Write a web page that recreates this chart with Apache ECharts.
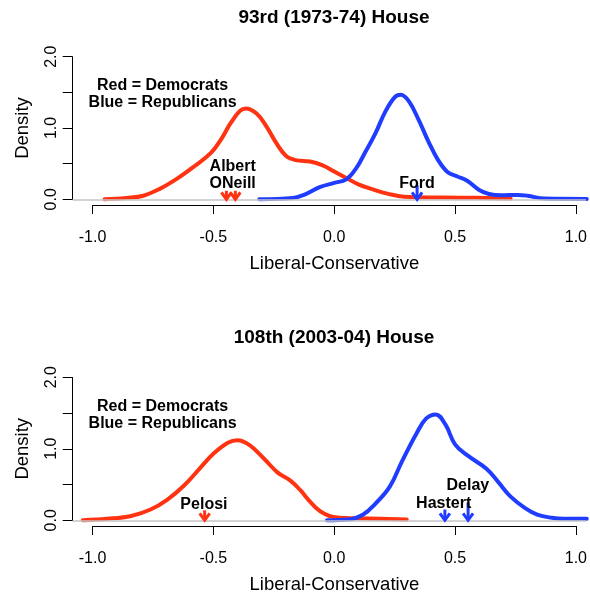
<!DOCTYPE html>
<html>
<head>
<meta charset="utf-8">
<script src="https://cdn.jsdelivr.net/npm/echarts@6/dist/echarts.min.js"></script>
<style>html,body{margin:0;padding:0;background:#fff}#c{width:590px;height:596px}</style>
</head>
<body>
<div id="c"></div>
<script>
// ---- data ----
const xTicks = [-1, -0.5, 0, 0.5, 1];
const yTicks = [0, 0.5, 1, 1.5, 2];
const yLabelValues = [0, 1, 2];
const titles = ['93rd (1973-74) House', '108th (2003-04) House'];
const xName = 'Liberal-Conservative';
const yName = 'Density';

const dem93 = [[-0.95,0.0],[-0.86,0.02],[-0.79,0.05],[-0.72,0.15],[-0.65,0.29],[-0.58,0.46],[-0.51,0.65],[-0.47,0.83],[-0.43,1.06],[-0.39,1.24],[-0.365,1.275],[-0.32,1.2],[-0.28,1.02],[-0.24,0.79],[-0.2,0.61],[-0.16,0.55],[-0.1,0.53],[-0.05,0.48],[0.0,0.39],[0.05,0.3],[0.1,0.21],[0.16,0.14],[0.22,0.08],[0.29,0.036],[0.45,0.025],[0.58,0.02],[0.73,0.01]];
const rep93 = [[-0.31,0.0],[-0.17,0.02],[-0.12,0.07],[-0.06,0.17],[0.0,0.23],[0.05,0.28],[0.09,0.43],[0.13,0.67],[0.17,0.92],[0.21,1.22],[0.25,1.43],[0.275,1.465],[0.31,1.37],[0.35,1.11],[0.39,0.81],[0.43,0.55],[0.47,0.38],[0.51,0.32],[0.55,0.26],[0.6,0.13],[0.64,0.075],[0.69,0.056],[0.76,0.062],[0.8,0.05],[0.87,0.01],[1.045,0.005]];
const dem108 = [[-1.04,0.0],[-0.94,0.02],[-0.84,0.06],[-0.76,0.15],[-0.69,0.29],[-0.62,0.49],[-0.555,0.73],[-0.5,0.93],[-0.44,1.085],[-0.4,1.12],[-0.35,1.05],[-0.29,0.86],[-0.235,0.67],[-0.18,0.55],[-0.14,0.42],[-0.1,0.26],[-0.06,0.13],[-0.02,0.06],[0.02,0.037],[0.09,0.028],[0.19,0.02],[0.3,0.01]];
const rep108 = [[-0.03,0.0],[0.06,0.01],[0.12,0.08],[0.17,0.23],[0.23,0.47],[0.28,0.82],[0.34,1.21],[0.38,1.42],[0.42,1.48],[0.46,1.34],[0.5,1.06],[0.55,0.91],[0.63,0.72],[0.68,0.53],[0.73,0.33],[0.79,0.17],[0.84,0.08],[0.9,0.035],[0.95,0.02],[1.045,0.02]];

// arrows: [x, y of arrow tail]
const demArrows93 = [[-0.446,0.12],[-0.409,0.12]];
const repArrows93 = [[0.343,0.2]];
const demArrows108 = [[-0.536,0.14]];
const repArrows108 = [[0.458,0.15],[0.554,0.25]];

// text annotations: [x, y, text]
const notes93 = [[-0.71,1.6,'Red = Democrats'],[-0.71,1.35,'Blue = Republicans'],[-0.42,0.46,'Albert'],[-0.42,0.225,'ONeill'],[0.343,0.225,'Ford']];
const notes108 = [[-0.71,1.59,'Red = Democrats'],[-0.71,1.35,'Blue = Republicans'],[-0.539,0.22,'Pelosi'],[0.453,0.23,'Hastert'],[0.553,0.49,'Delay']];

// ---- styling ----
const FONT = '"Liberation Sans", Arial, Helvetica, sans-serif';
const RED = '#ff3311';
const BLUE = '#1f3cff';
const X_MIN = -1.082, X_MAX = 1.042, Y_MIN = -0.08, Y_MAX = 2.08;

const panels = [
  {dem: dem93, rep: rep93, demA: demArrows93, repA: repArrows93, notes: notes93},
  {dem: dem108, rep: rep108, demA: demArrows108, repA: repArrows108, notes: notes108}
];

function arrowSeries(i, data, color) {
  return {
    type: 'custom', xAxisIndex: i, yAxisIndex: i, z: 5, clip: false, silent: true,
    encode: {x: 0, y: 1},
    data: data,
    renderItem: function (params, api) {
      const x = api.value(0), yt = api.value(1);
      const top = api.coord([x, yt]);
      const tip = api.coord([x, 0]);
      return {type: 'group', children: [
        {type: 'line', shape: {x1: tip[0], y1: top[1], x2: tip[0], y2: tip[1]}, style: {stroke: color, lineWidth: 3}},
        {type: 'polyline', shape: {points: [[tip[0]-5, tip[1]-7],[tip[0], tip[1]],[tip[0]+5, tip[1]-7]]}, style: {stroke: color, lineWidth: 3, fill: null}}
      ]};
    }
  };
}
function noteSeries(i, notes) {
  return {
    type: 'custom', xAxisIndex: i, yAxisIndex: i, z: 6, clip: false, silent: true,
    encode: {x: 0, y: 1},
    data: notes.map(n => [n[0], n[1]]),
    renderItem: function (params, api) {
      const p = api.coord([api.value(0), api.value(1)]);
      return {type: 'text', x: p[0], y: p[1], style: {
        text: notes[params.dataIndex][2], align: 'center', verticalAlign: 'middle',
        fontSize: 16, fontWeight: 'bold', fontFamily: FONT, fill: '#000'}};
    }
  };
}

const series = [];
panels.forEach((p, i) => {
  series.push({
    type: 'line', xAxisIndex: i, yAxisIndex: i, data: [], z: 1, clip: false, silent: true,
    markLine: {
      silent: true, symbol: 'none', animation: false, label: {show: false},
      data: [
        [{coord: [X_MIN, 0], lineStyle: {color: '#c4c4c4', width: 1.5, type: 'solid'}}, {coord: [X_MAX, 0]}],
        [{coord: [xTicks[0], Y_MIN], lineStyle: {color: '#000', width: 1, type: 'solid'}}, {coord: [xTicks[xTicks.length-1], Y_MIN]}],
        [{coord: [X_MIN, yTicks[0]], lineStyle: {color: '#000', width: 1, type: 'solid'}}, {coord: [X_MIN, yTicks[yTicks.length-1]]}]
      ]
    }
  });
  series.push({type: 'line', xAxisIndex: i, yAxisIndex: i, data: p.dem, z: 3, smooth: 0.4, showSymbol: false, symbol: 'none',
    lineStyle: {color: RED, width: 4, cap: 'round', join: 'round'}});
  series.push({type: 'line', xAxisIndex: i, yAxisIndex: i, data: p.rep, z: 4, smooth: 0.4, showSymbol: false, symbol: 'none',
    lineStyle: {color: BLUE, width: 4, cap: 'round', join: 'round'}});
  series.push(arrowSeries(i, p.demA, RED));
  series.push(arrowSeries(i, p.repA, BLUE));
  series.push(noteSeries(i, p.notes));
});

const grids = [{left: 72.7, right: 0, top: 51, height: 154}, {left: 72.7, right: 0, top: 371.5, height: 154.5}];

const option = {
  animation: false,
  backgroundColor: '#fff',
  textStyle: {fontFamily: FONT},
  title: titles.map((t, i) => ({
    text: t, left: 329, top: i === 0 ? 3 : 323, textAlign: 'center',
    textStyle: {fontSize: 19, fontWeight: 'bold', color: '#000', fontFamily: FONT}
  })),
  grid: grids,
  xAxis: grids.map((g, i) => ({
    gridIndex: i, type: 'value', min: X_MIN, max: X_MAX,
    axisLine: {show: false, onZero: false}, splitLine: {show: false},
    axisTick: {show: true, customValues: xTicks, length: 9, lineStyle: {color: '#000', width: 1}},
    axisLabel: {customValues: xTicks, formatter: v => v.toFixed(1), fontSize: 16, color: '#000', margin: 25, fontFamily: FONT},
    name: xName, nameLocation: 'middle', nameGap: 49,
    nameTextStyle: {fontSize: 18.5, color: '#000', fontFamily: FONT, padding: [0, 0, 0, 10]}
  })),
  yAxis: grids.map((g, i) => ({
    gridIndex: i, type: 'value', min: Y_MIN, max: Y_MAX,
    axisLine: {show: false, onZero: false}, splitLine: {show: false},
    axisTick: {show: true, customValues: yTicks, length: 10, lineStyle: {color: '#000', width: 1}},
    axisLabel: {customValues: yLabelValues, formatter: v => v.toFixed(1), fontSize: 16, color: '#000', margin: 13, rotate: 90, fontFamily: FONT},
    name: yName, nameLocation: 'middle', nameGap: 40,
    nameTextStyle: {fontSize: 18.5, color: '#000', fontFamily: FONT}
  })),
  series: series
};

const chart = echarts.init(document.getElementById('c'), null, {renderer: 'canvas'});
chart.setOption(option);
</script>
</body>
</html>
